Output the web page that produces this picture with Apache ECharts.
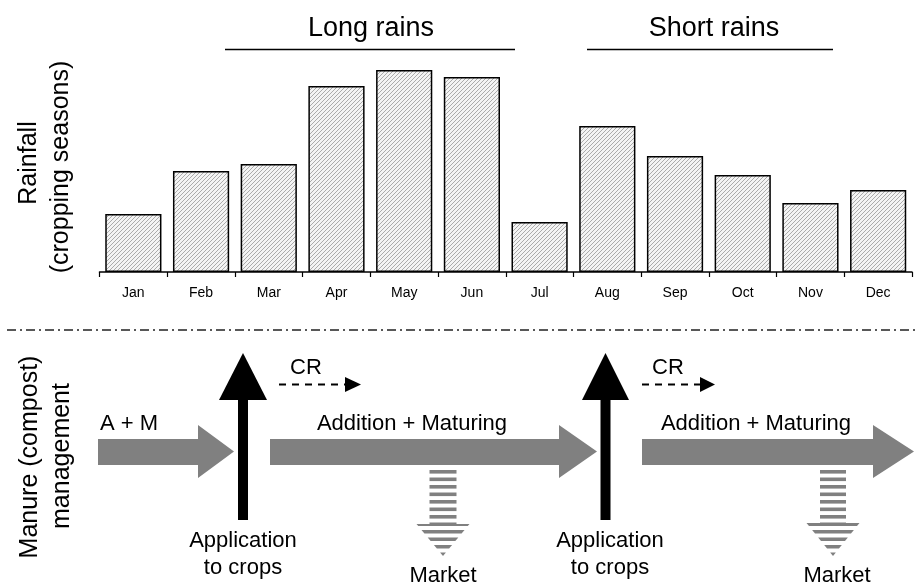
<!DOCTYPE html>
<html>
<head>
<meta charset="utf-8">
<script src="https://cdn.jsdelivr.net/npm/echarts@6/dist/echarts.min.js"></script>
<style>html,body{margin:0;padding:0;background:#fff}#c{width:918px;height:586px}</style>
</head>
<body>
<div id="c"></div>
<script>
// ---- data ----
const months = ['Jan','Feb','Mar','Apr','May','Jun','Jul','Aug','Sep','Oct','Nov','Dec'];
const rainfall = [58, 101, 108, 186, 202, 195, 50, 146, 116, 97, 69, 82];
const seasonLabels = ['Long rains', 'Short rains'];
const rowTitles = ['Rainfall', '(cropping seasons)'];
const mgmtTitles = ['Manure (compost)', 'management'];
const flowLabels = ['A + M', 'Addition + Maturing', 'Addition + Maturing'];
const crLabel = 'CR';
const appLabel = 'Application\nto crops';
const marketLabel = 'Market';

const FF = '"Liberation Sans", Arial, Helvetica, sans-serif';
const GRAY = '#808080';

// hatch pattern
const tile = document.createElement('canvas');
tile.width = 4; tile.height = 4;
const tc = tile.getContext('2d');
tc.fillStyle = '#f4f4f4'; tc.fillRect(0,0,4,4);
tc.strokeStyle = '#ababab'; tc.lineWidth = 1;
tc.beginPath();
tc.moveTo(-1,5); tc.lineTo(5,-1);
tc.moveTo(-1,1); tc.lineTo(1,-1);
tc.moveTo(3,5); tc.lineTo(5,3);
tc.stroke();

function txt(text, x, y, size, opts) {
  opts = opts || {};
  return {
    type: 'text', x: x, y: y, rotation: opts.rotation || 0, silent: true,
    style: { text: text, fontSize: size, fontFamily: FF, fill: '#000',
      align: 'center', verticalAlign: 'middle', lineHeight: opts.lineHeight || size * 1.2 }
  };
}
function poly(points, fill) {
  return { type: 'polygon', silent: true, shape: { points: points }, style: { fill: fill } };
}
function grayArrow(x0, xHead, xTip, yTop, yBot, hTop, hBot) {
  const mid = (hTop + hBot) / 2;
  return poly([[x0,yTop],[xHead,yTop],[xHead,hTop],[xTip,mid],[xHead,hBot],[xHead,yBot],[x0,yBot]], GRAY);
}
function blackArrow(cx, sw, shaftTop, shaftBot, hw, tipY) {
  return [
    { type:'rect', silent:true, shape:{x:cx - sw/2, y:shaftTop - 1, width:sw, height:shaftBot - shaftTop + 1}, style:{fill:'#000'} },
    poly([[cx - hw, shaftTop],[cx + hw, shaftTop],[cx, tipY]], '#000')
  ];
}
function crArrow(x0, x1, xTip, y) {
  return [
    { type:'line', silent:true, shape:{x1:x0, y1:y, x2:x1, y2:y}, style:{stroke:'#000', lineWidth:2.2, lineDash:[7,6]} },
    poly([[x1, y-7.5],[xTip, y],[x1, y+7.5]], '#000')
  ];
}
function stripedArrow(cx, sw, top, headTop, hw, tip) {
  const out = [];
  const half = (y) => y < headTop ? sw/2 : hw * (tip - y) / (tip - headTop);
  for (let y0 = top + 4; y0 < tip - 1; y0 += 7.5) {
    const y1 = Math.min(y0 + 3.6, tip);
    const left = [], right = [];
    left.push([cx - half(y0), y0]); right.push([cx + half(y0), y0]);
    if (y0 < headTop && y1 > headTop) {
      left.push([cx - sw/2, headTop]); left.push([cx - hw, headTop]);
      right.push([cx + sw/2, headTop]); right.push([cx + hw, headTop]);
    }
    left.push([cx - half(y1), y1]); right.push([cx + half(y1), y1]);
    out.push(poly(left.concat(right.reverse()), GRAY));
  }
  return out;
}

const graphics = [
  // season labels + lines
  txt(seasonLabels[0], 371, 29, 27),
  { type:'line', silent:true, shape:{x1:225, y1:49.5, x2:515, y2:49.5}, style:{stroke:'#000', lineWidth:1.5} },
  txt(seasonLabels[1], 714, 29, 27),
  { type:'line', silent:true, shape:{x1:587, y1:49.5, x2:833, y2:49.5}, style:{stroke:'#000', lineWidth:1.5} },
  // rotated titles
  txt(rowTitles[0], 29, 163, 25, {rotation: Math.PI/2}),
  txt(rowTitles[1], 61, 167, 25, {rotation: Math.PI/2}),
  txt(mgmtTitles[0], 30, 457, 25, {rotation: Math.PI/2}),
  txt(mgmtTitles[1], 62, 456, 25, {rotation: Math.PI/2}),
  // separator
  { type:'line', silent:true, shape:{x1:7, y1:330, x2:916, y2:330}, style:{stroke:'#222', lineWidth:1.5, lineDash:[9,4,2,4]} },
  // gray arrows
  grayArrow(98, 198, 234, 439, 465, 425, 478),
  grayArrow(270, 559, 597, 439, 465, 425, 478),
  grayArrow(642, 873, 914, 439, 465, 425, 478),
  txt(flowLabels[0], 129, 424, 22),
  txt(flowLabels[1], 412, 424, 22),
  txt(flowLabels[2], 756, 424, 22),
  // black arrows
  ...blackArrow(243, 10, 400, 520, 24, 353),
  ...blackArrow(605.5, 10, 400, 520, 23.5, 353),
  txt(appLabel, 243, 554, 22, {lineHeight: 27}),
  txt(appLabel, 610, 554, 22, {lineHeight: 27}),
  // CR arrows
  ...crArrow(279, 345, 361, 384.5),
  ...crArrow(642, 700, 715, 384.5),
  txt(crLabel, 306, 368, 22),
  txt(crLabel, 668, 368, 22),
  // market arrows
  ...stripedArrow(443, 27, 466, 524, 26.5, 556),
  ...stripedArrow(833, 26, 466, 523, 26.5, 556),
  txt(marketLabel, 443, 576, 22),
  txt(marketLabel, 837, 576, 22)
];

const chart = echarts.init(document.getElementById('c'), null, {renderer: 'canvas'});
chart.setOption({
  animation: false,
  backgroundColor: '#fff',
  grid: { left: 99.5, right: 6, top: 62, bottom: 314, containLabel: false },
  xAxis: {
    type: 'category', data: months, boundaryGap: true,
    axisLine: { show: true, lineStyle: { color: '#000', width: 1.5 } },
    axisTick: { show: true, length: 5, lineStyle: { color: '#000', width: 1.2 } },
    axisLabel: { color: '#000', fontSize: 14, fontFamily: FF, margin: 14, interval: 0 },
    splitLine: { show: false }
  },
  yAxis: { type: 'value', min: 0, max: 210, show: false },
  series: [{
    type: 'bar', data: rainfall, barCategoryGap: '17%',
    itemStyle: { color: { image: tile, repeat: 'repeat' }, borderColor: '#000', borderWidth: 1.5 },
    emphasis: { disabled: true }
  }],
  graphic: graphics
});
</script>
</body>
</html>
